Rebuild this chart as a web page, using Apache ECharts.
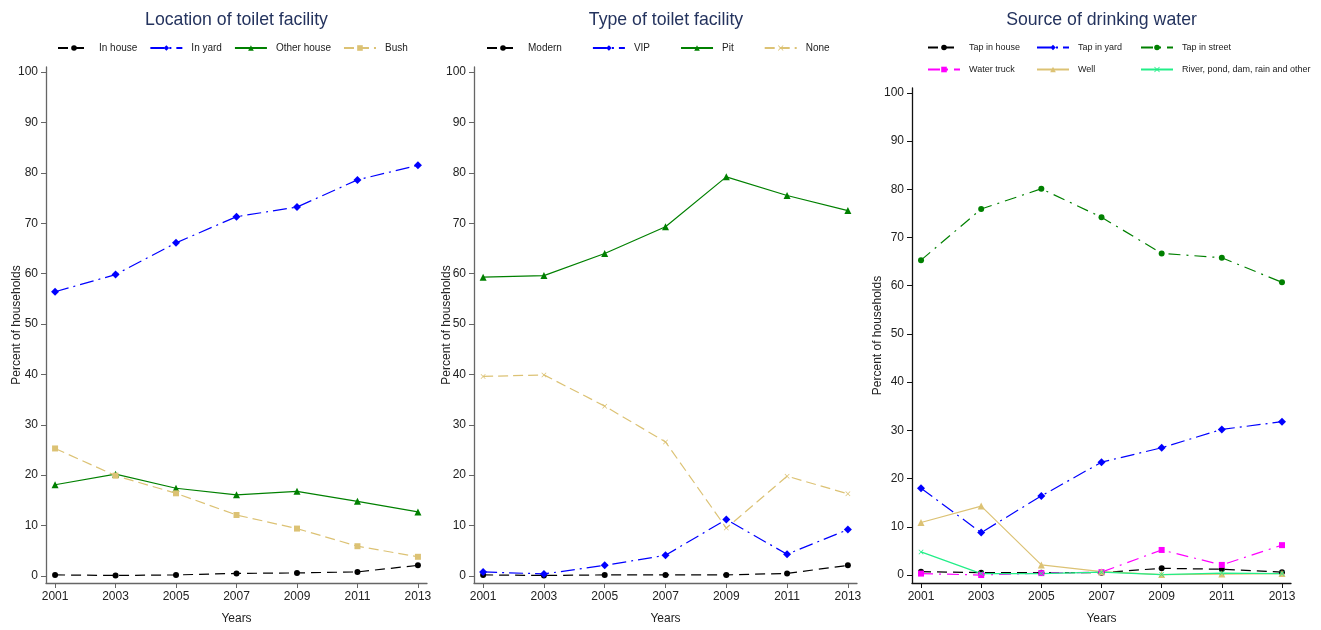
<!DOCTYPE html>
<html>
<head>
<meta charset="utf-8">
<script src="https://cdn.jsdelivr.net/npm/echarts@6/dist/echarts.min.js"></script>
<style>
html,body{margin:0;padding:0;background:#fff;}
#c{width:1321px;height:630px;}
</style>
</head>
<body>
<div id="c"></div>
<script>
var years = [2001, 2003, 2005, 2007, 2009, 2011, 2013];
var yTicks = [0, 10, 20, 30, 40, 50, 60, 70, 80, 90, 100];
var titles = ["Location of toilet facility", "Type of toilet facility", "Source of drinking water"];

// Panel 1: Location of toilet facility
var inHouse    = [0.2, 0.1, 0.2, 0.5, 0.6, 0.8, 2.1];
var inYard     = [56.4, 59.8, 66.1, 71.3, 73.2, 78.6, 81.5];
var otherHouse = [18.1, 20.2, 17.4, 16.1, 16.8, 14.8, 12.7];
var bush       = [25.3, 19.9, 16.4, 12.1, 9.4, 5.9, 3.8];

// Panel 2: Type of toilet facility
var modern = [0.2, 0.1, 0.2, 0.2, 0.2, 0.5, 2.1];
var vip    = [0.8, 0.4, 2.1, 4.1, 11.2, 4.3, 9.2];
var pit    = [59.3, 59.6, 64.0, 69.3, 79.2, 75.5, 72.5];
var none   = [39.6, 39.9, 33.7, 26.6, 9.5, 19.8, 16.3];

// Panel 3: Source of drinking water
var tapHouse  = [0.7, 0.5, 0.5, 0.5, 1.4, 1.2, 0.6];
var tapYard   = [18.0, 8.8, 16.4, 23.4, 26.4, 30.2, 31.8];
var tapStreet = [65.3, 75.9, 80.1, 74.2, 66.7, 65.8, 60.7];
var truck     = [0.3, 0.0, 0.4, 0.6, 5.2, 2.1, 6.2];
var well      = [10.9, 14.3, 2.1, 0.7, 0.1, 0.2, 0.3];
var river     = [4.8, 0.3, 0.3, 0.6, 0.1, 0.4, 0.3];

var xSym = 'path://M0,1L1,0L5,4L9,0L10,1L6,5L10,9L9,10L5,6L1,10L0,9L4,5Z';
var FONT = '"Liberation Sans", Arial, sans-serif';

function pts(vals){ return years.map(function(y,i){ return [y, vals[i]]; }); }

function mk(name, vals, idx, color, dash, symbol, size){
  return {
    name: name, type: 'line', xAxisIndex: idx, yAxisIndex: idx,
    data: pts(vals), symbol: symbol, symbolSize: size,
    showSymbol: true,
    lineStyle: {color: color, width: 1.2, type: dash},
    itemStyle: {color: color},
    emphasis: {disabled: true},
    animation: false
  };
}

var grids = [
  {left: 46, top: 67, width: 381, height: 518},
  {left: 474, top: 67, width: 383, height: 518},
  {left: 912, top: 88, width: 379, height: 497}
];
var yMins = [-1.4, -1.4, -1.65];
var yMaxs = [101, 101, 101];
var axisCols = ['#666', '#666', '#111'];
var nameGaps = [23, 21, 28];

var xAxes = [], yAxes = [];
for (var i = 0; i < 3; i++) {
  xAxes.push({
    type: 'value', gridIndex: i, min: 2000.7, max: 2013.3,
    name: 'Years', nameLocation: 'middle', nameGap: 30, nameMoveOverlap: false,
    nameTextStyle: {fontFamily: FONT, fontSize: 12, color: '#222'},
    axisLine: {show: true, onZero: false, lineStyle: {color: axisCols[i], width: 1.3}},
    axisTick: {show: true, length: 5, customValues: years, lineStyle: {color: axisCols[i]}},
    axisLabel: {customValues: years, formatter: function(v){ return String(Math.round(v)); },
                fontFamily: FONT, fontSize: 12, color: '#222', margin: 8},
    splitLine: {show: false}
  });
  yAxes.push({
    type: 'value', gridIndex: i, min: yMins[i], max: yMaxs[i],
    name: 'Percent of households', nameLocation: 'middle', nameGap: nameGaps[i], nameMoveOverlap: false,
    nameTextStyle: {fontFamily: FONT, fontSize: 12, color: '#222'},
    axisLine: {show: true, onZero: false, lineStyle: {color: axisCols[i], width: 1.3}},
    axisTick: {show: true, length: 5, customValues: yTicks, lineStyle: {color: axisCols[i]}},
    axisLabel: {customValues: yTicks, formatter: function(v){ return String(Math.round(v)); },
                fontFamily: FONT, fontSize: 12, color: '#222', margin: 8},
    splitLine: {show: false}
  });
}

var TAN = '#dcc274';
var series = [
  mk('In house', inHouse, 0, '#000', [10,6], 'circle', 6),
  mk('In yard', inYard, 0, '#0000ff', [14,5,2,5], 'diamond', 8),
  mk('Other house', otherHouse, 0, '#008000', 'solid', 'triangle', 7),
  mk('Bush', bush, 0, TAN, [10,5], 'rect', 6),

  mk('Modern', modern, 1, '#000', [10,6], 'circle', 6),
  mk('VIP', vip, 1, '#0000ff', [14,5,2,5], 'diamond', 8),
  mk('Pit', pit, 1, '#008000', 'solid', 'triangle', 7),
  mk('None', none, 1, TAN, [10,5], xSym, 5),

  mk('Tap in house', tapHouse, 2, '#000', [10,6], 'circle', 6),
  mk('Tap in yard', tapYard, 2, '#0000ff', [14,5,2,5], 'diamond', 8),
  mk('Tap in street', tapStreet, 2, '#008000', [12,6,2,6], 'circle', 6),
  mk('Water truck', truck, 2, '#ff00ff', [12,6,2,6], 'rect', 6),
  mk('Well', well, 2, TAN, 'solid', 'triangle', 7),
  mk('River, pond, dam, rain and other', river, 2, '#22ee88', 'solid', xSym, 5)
];

function lg(data, left, top, orient, gap, fs){
  return {
    data: data, left: left, top: top, orient: orient || 'horizontal',
    itemWidth: 32, itemHeight: 7, itemGap: gap,
    textStyle: {fontFamily: FONT, fontSize: fs || 10, color: '#222', padding: [0,0,0,4]},
    selectedMode: false
  };
}

var titleStyle = {fontFamily: FONT, fontSize: 17.7, fontWeight: 'normal', color: '#24335e'};
var option = {
  backgroundColor: '#fff',
  animation: false,
  title: [
    {text: titles[0], left: 231.5, top: 6, textAlign: 'center', textStyle: titleStyle},
    {text: titles[1], left: 661, top: 6, textAlign: 'center', textStyle: titleStyle},
    {text: titles[2], left: 1096.5, top: 6, textAlign: 'center', textStyle: titleStyle}
  ],
  legend: [
    lg(['In house', 'In yard', 'Other house', 'Bush'], 52, 38, 'horizontal', 12),
    lg(['Modern', 'VIP', 'Pit', 'None'], 481, 38, 'horizontal', 30),
    lg(['Tap in house', 'Water truck'], 922, 38, 'vertical', 13, 9),
    lg(['Tap in yard', 'Well'], 1031, 38, 'vertical', 13, 9),
    lg(['Tap in street', 'River, pond, dam, rain and other'], 1135, 38, 'vertical', 13, 9)
  ],
  grid: grids,
  xAxis: xAxes,
  yAxis: yAxes,
  series: series
};

var chart = echarts.init(document.getElementById('c'), null, {renderer: 'canvas'});
chart.setOption(option);
</script>
</body>
</html>
